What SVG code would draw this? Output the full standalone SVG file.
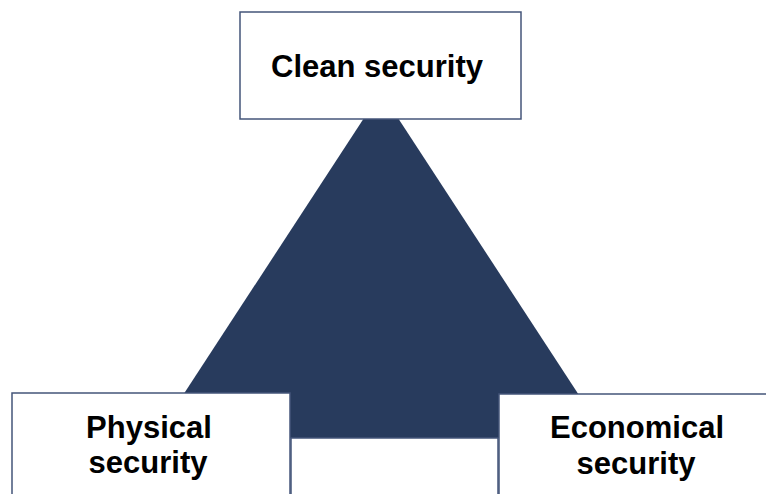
<svg xmlns="http://www.w3.org/2000/svg" width="766" height="494" viewBox="0 0 766 494">
  <style>
    .box { fill: #ffffff; stroke: #44557a; stroke-width: 1.5; }
    .tri { fill: #283b5d; }
    .lbl { font-family: "Liberation Sans", Arial, sans-serif; font-weight: bold; font-size: 31px; fill: #000000; text-anchor: middle; }
  </style>
  <rect width="766" height="494" fill="#ffffff"/>
  <g id="connectors">
    <polygon class="tri" points="381,92 155,438 607,438"/>
    <rect class="box" x="291" y="438" width="207" height="70"/>
  </g>
  <g id="clean">
    <rect class="box" x="240" y="12" width="281" height="107"/>
    <text class="lbl" x="377" y="77">Clean security</text>
  </g>
  <g id="physical">
    <rect class="box" x="12" y="393" width="278" height="120"/>
    <text class="lbl" x="149" y="438">Physical</text>
    <text class="lbl" x="148" y="473">security</text>
  </g>
  <g id="economical">
    <rect class="box" x="499" y="394" width="290" height="120"/>
    <text class="lbl" x="637" y="438">Economical</text>
    <text class="lbl" x="636" y="474">security</text>
  </g>
</svg>
